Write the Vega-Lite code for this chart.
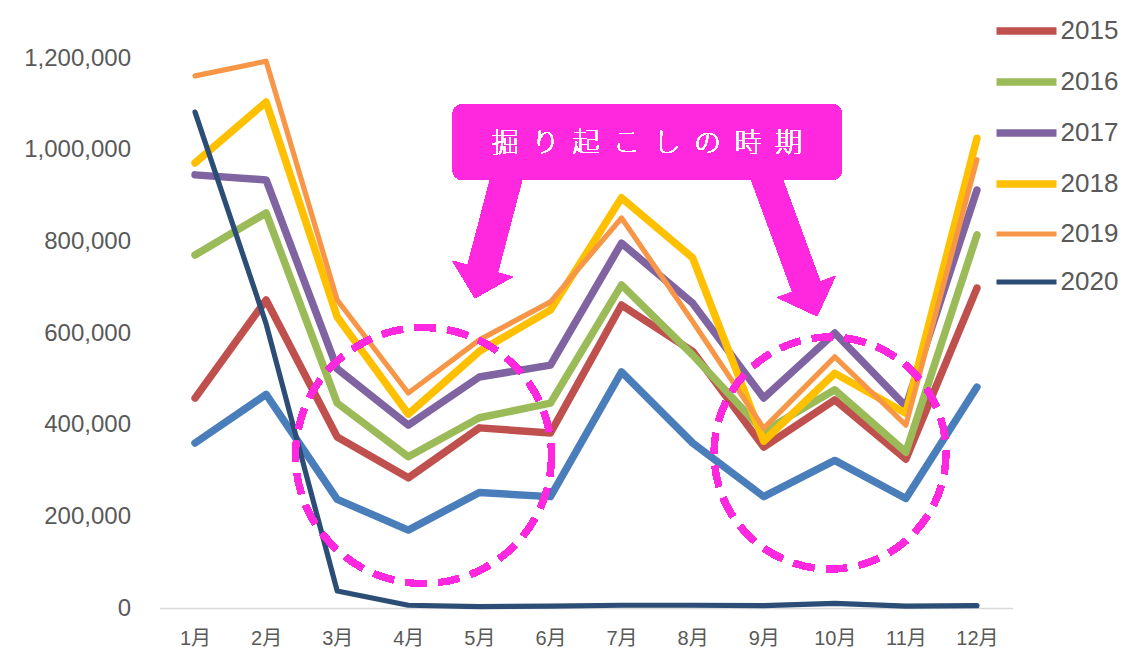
{
  "$schema": "https://vega.github.io/schema/vega-lite/v6.json",
  "width": 853,
  "height": 550,
  "autosize": {"type": "none"},
  "padding": {"left": 159.5, "top": 58, "right": 111.5, "bottom": 50},
  "background": "white",
  "config": {"view": {"stroke": null}, "font": "Liberation Sans"},
  "data": {"values": [
    {"year":"2014","month":1,"value":360000},{"year":"2014","month":2,"value":466000},{"year":"2014","month":3,"value":237000},{"year":"2014","month":4,"value":170000},{"year":"2014","month":5,"value":252000},{"year":"2014","month":6,"value":243000},{"year":"2014","month":7,"value":515000},{"year":"2014","month":8,"value":360000},{"year":"2014","month":9,"value":243000},{"year":"2014","month":10,"value":322000},{"year":"2014","month":11,"value":239000},{"year":"2014","month":12,"value":482000},
    {"year":"2015","month":1,"value":458000},{"year":"2015","month":2,"value":672000},{"year":"2015","month":3,"value":373000},{"year":"2015","month":4,"value":284000},{"year":"2015","month":5,"value":393000},{"year":"2015","month":6,"value":382000},{"year":"2015","month":7,"value":661000},{"year":"2015","month":8,"value":560000},{"year":"2015","month":9,"value":351000},{"year":"2015","month":10,"value":454000},{"year":"2015","month":11,"value":325000},{"year":"2015","month":12,"value":698000},
    {"year":"2016","month":1,"value":770000},{"year":"2016","month":2,"value":862000},{"year":"2016","month":3,"value":447000},{"year":"2016","month":4,"value":330000},{"year":"2016","month":5,"value":415000},{"year":"2016","month":6,"value":447000},{"year":"2016","month":7,"value":705000},{"year":"2016","month":8,"value":552000},{"year":"2016","month":9,"value":385000},{"year":"2016","month":10,"value":476000},{"year":"2016","month":11,"value":340000},{"year":"2016","month":12,"value":814000},
    {"year":"2017","month":1,"value":945000},{"year":"2017","month":2,"value":934000},{"year":"2017","month":3,"value":522000},{"year":"2017","month":4,"value":399000},{"year":"2017","month":5,"value":504000},{"year":"2017","month":6,"value":530000},{"year":"2017","month":7,"value":796000},{"year":"2017","month":8,"value":665000},{"year":"2017","month":9,"value":458000},{"year":"2017","month":10,"value":600000},{"year":"2017","month":11,"value":440000},{"year":"2017","month":12,"value":912000},
    {"year":"2018","month":1,"value":971000},{"year":"2018","month":2,"value":1104000},{"year":"2018","month":3,"value":635000},{"year":"2018","month":4,"value":423000},{"year":"2018","month":5,"value":560000},{"year":"2018","month":6,"value":650000},{"year":"2018","month":7,"value":895000},{"year":"2018","month":8,"value":764000},{"year":"2018","month":9,"value":364000},{"year":"2018","month":10,"value":512000},{"year":"2018","month":11,"value":425000},{"year":"2018","month":12,"value":1025000},
    {"year":"2019","month":1,"value":1161000},{"year":"2019","month":2,"value":1193000},{"year":"2019","month":3,"value":672000},{"year":"2019","month":4,"value":469000},{"year":"2019","month":5,"value":585000},{"year":"2019","month":6,"value":668000},{"year":"2019","month":7,"value":851000},{"year":"2019","month":8,"value":625000},{"year":"2019","month":9,"value":392000},{"year":"2019","month":10,"value":548000},{"year":"2019","month":11,"value":399000},{"year":"2019","month":12,"value":978000},
    {"year":"2020","month":1,"value":1082000},{"year":"2020","month":2,"value":620000},{"year":"2020","month":3,"value":37000},{"year":"2020","month":4,"value":6000},{"year":"2020","month":5,"value":3000},{"year":"2020","month":6,"value":4000},{"year":"2020","month":7,"value":6000},{"year":"2020","month":8,"value":6000},{"year":"2020","month":9,"value":5000},{"year":"2020","month":10,"value":10000},{"year":"2020","month":11,"value":4000},{"year":"2020","month":12,"value":5000}
  ]},
  "layer": [
    {
      "transform": [{"filter": "datum.year == '2014'"}],
      "mark": {"type": "line", "color": "#4A7EBB", "strokeWidth": 7.5, "strokeCap": "round", "strokeJoin": "round"},
      "encoding": {
        "x": {"field": "month", "type": "quantitative", "scale": {"domain": [0.5, 12.5], "nice": false, "zero": false},
          "axis": {"values": [1,2,3,4,5,6,7,8,9,10,11,12], "labelExpr": "datum.value + '月'", "title": null, "ticks": false, "grid": false, "domainColor": "#D9D9D9", "domainWidth": 1.5, "labelFontSize": 20, "labelColor": "#595959", "labelPadding": 20, "labelFont": "Liberation Sans, Noto Sans CJK JP"}},
        "y": {"field": "value", "type": "quantitative", "scale": {"domain": [0, 1200000], "nice": false},
          "axis": {"values": [0,200000,400000,600000,800000,1000000,1200000], "format": ",d", "title": null, "domain": false, "ticks": false, "grid": false, "labelFontSize": 24, "labelColor": "#595959", "labelPadding": 29, "labelFont": "Liberation Sans"}}
      }
    },
    {
      "transform": [{"filter": "datum.year != '2014'"}],
      "mark": {"type": "line", "strokeCap": "round", "strokeJoin": "round"},
      "encoding": {
        "x": {"field": "month", "type": "quantitative"},
        "y": {"field": "value", "type": "quantitative"},
        "color": {"field": "year", "type": "ordinal",
          "scale": {"type": "ordinal", "domain": ["2015","2016","2017","2018","2019","2020"], "range": ["#C0504D","#9BBB59","#8064A2","#FFC000","#F79646","#2C4D75"]},
          "legend": {"title": null, "orient": "none", "legendX": 833, "legendY": -61, "symbolType": "stroke", "symbolSize": 3600, "labelFontSize": 26, "labelColor": "#595959", "labelFont": "Liberation Sans", "labelOffset": 0, "rowPadding": 2}},
        "strokeWidth": {"field": "year", "type": "ordinal",
          "scale": {"type": "ordinal", "domain": ["2015","2016","2017","2018","2019","2020"], "range": [7.5,7.5,7.5,7.5,5.2,5.2]}}
      }
    },
    {
      "mark": {"type": "point", "shape": "circle", "size": 65536, "filled": false, "stroke": "#FF28DF", "strokeWidth": 6.5, "strokeDash": [21, 12], "opacity": 1},
      "encoding": {"x": {"datum": 4.214, "type": "quantitative"}, "y": {"datum": 332700, "type": "quantitative"}}
    },
    {
      "mark": {"type": "point", "shape": "circle", "size": 53824, "filled": false, "stroke": "#FF28DF", "strokeWidth": 6.5, "strokeDash": [21, 12], "opacity": 1},
      "encoding": {"x": {"datum": 9.933, "type": "quantitative"}, "y": {"datum": 338200, "type": "quantitative"}}
    },
    {
      "mark": {"type": "point", "shape": "M-0.234,-1L0.234,-1L0.234,0.546L0.469,0.546L0,1L-0.469,0.546L-0.234,0.546Z", "size": 17503, "angle": 14.7, "filled": true, "fill": "#FF28DF", "strokeWidth": 0, "opacity": 1},
      "encoding": {"x": {"datum": 5.175, "type": "quantitative"}, "y": {"datum": 816000, "type": "quantitative"}}
    },
    {
      "mark": {"type": "point", "shape": "M-0.19,-1L0.19,-1L0.19,0.6L0.398,0.6L0,1L-0.398,0.6L-0.19,0.6Z", "size": 24211, "angle": 339.8, "filled": true, "fill": "#FF28DF", "strokeWidth": 0, "opacity": 1},
      "encoding": {"x": {"datum": 9.373, "type": "quantitative"}, "y": {"datum": 796400, "type": "quantitative"}}
    },
    {
      "mark": {"type": "rect", "color": "#FF28DF", "cornerRadius": 10},
      "encoding": {"x": {"datum": 4.625, "type": "quantitative"}, "x2": {"datum": 10.098}, "y": {"datum": 1099000, "type": "quantitative"}, "y2": {"datum": 933800}}
    },
    {
      "mark": {"type": "text", "text": "掘\u2002り\u2002起\u2002こ\u2002し\u2002の\u2002時\u2002期", "font": "Noto Sans CJK JP", "fontSize": 27, "fontWeight": 100, "color": "white", "align": "center", "baseline": "middle"},
      "encoding": {"x": {"datum": 7.354, "type": "quantitative"}, "y": {"datum": 1012400, "type": "quantitative"}}
    }
  ]
}
